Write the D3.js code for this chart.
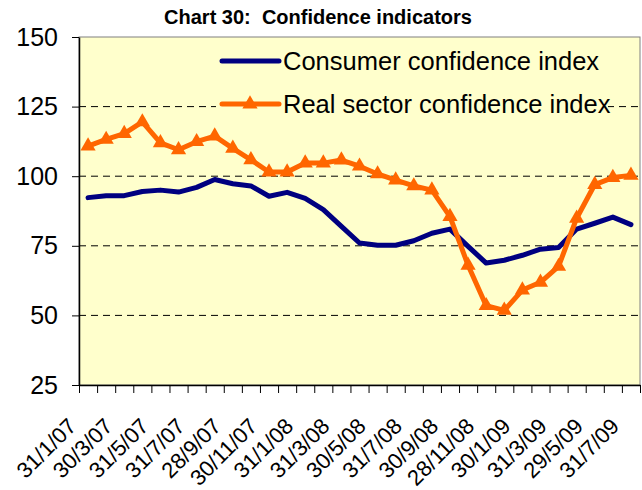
<!DOCTYPE html>
<html lang="en">
<head>
    <meta charset="UTF-8">
    <title>Chart 30: Confidence indicators</title>
    <script src="https://d3js.org/d3.v7.min.js"></script>
    <style>
        body { margin: 0; background: #fff; }
        svg { display: block; font-family: "Liberation Sans", Arial, sans-serif; }
        .title { font-size: 20px; font-weight: bold; text-anchor: middle; white-space: pre; }
        .legend-label { font-size: 25.5px; }
    </style>
</head>
<body>
    <svg width="642" height="490"></svg>
    <script>
        // monthly observations, Jan 2007 - Jul 2009
        const dates = ["31/1/07", "28/2/07", "30/3/07", "30/4/07", "31/5/07", "29/6/07", "31/7/07", "31/8/07",
            "28/9/07", "31/10/07", "30/11/07", "31/12/07", "31/1/08", "29/2/08", "31/3/08", "30/4/08",
            "30/5/08", "30/6/08", "31/7/08", "29/8/08", "30/9/08", "31/10/08", "28/11/08", "31/12/08",
            "30/1/09", "27/2/09", "31/3/09", "30/4/09", "29/5/09", "30/6/09", "31/7/09"];
        const consumer = [92.3, 93, 93, 94.5, 95, 94.3, 96, 98.8, 97.3, 96.5, 92.8, 94.2, 92, 88, 82, 76,
            75.2, 75.2, 76.8, 79.5, 81, 74.8, 68.8, 69.8, 71.6, 73.8, 74.4, 81, 83.1, 85.3, 82.6];
        const realSector = [110.8, 113.2, 115.3, 119.5, 112, 109.5, 112.4, 114.4, 110, 105.9, 101.5, 101.5,
            104.7, 104.7, 105.8, 103.6, 100.8, 98.6, 96.5, 95, 85.5, 68, 53.5, 51.8, 59.1, 61.9, 67.6,
            84.9, 97, 99.5, 100.3];
        const yTicks = [25, 50, 75, 100, 125, 150];
        const gridValues = [50, 75, 100, 125];
        const seriesNames = ["Consumer confidence index", "Real sector confidence index"];

        const plot = { left: 79, right: 640, top: 37, bottom: 385 };
        const svg = d3.select("svg");

        const x = d3.scaleBand()
            .domain(dates)
            .range([plot.left, plot.right])
            .padding(0);
        const xc = d => x(d) + x.bandwidth() / 2;

        const y = d3.scaleLinear()
            .domain([25, 150])
            .range([plot.bottom, plot.top]);

        // plot background
        svg.append("rect")
            .attr("x", plot.left)
            .attr("y", plot.top)
            .attr("width", plot.right - plot.left)
            .attr("height", plot.bottom - plot.top)
            .attr("fill", "#FFFFCC")
            .attr("stroke", "#808080")
            .attr("stroke-width", 1);

        svg.append("g")
            .selectAll("line")
            .data(gridValues)
            .enter()
            .append("line")
            .attr("x1", plot.left)
            .attr("x2", plot.right)
            .attr("y1", d => y(d))
            .attr("y2", d => y(d))
            .attr("stroke", "#000")
            .attr("stroke-width", 1)
            .attr("stroke-dasharray", "7,5");

        // y axis
        const yAxis = svg.append("g")
            .attr("transform", `translate(${plot.left},0)`)
            .call(d3.axisLeft(y).tickValues(yTicks).tickSize(7).tickSizeOuter(0).tickPadding(14));
        yAxis.select(".domain").attr("stroke", "#000").attr("stroke-width", 1.5);
        yAxis.selectAll("line").attr("stroke", "#000");
        yAxis.selectAll("text")
            .style("font-size", "25px")
            .style("font-family", "'Liberation Sans', Arial, sans-serif")
            .attr("fill", "#000");

        // x axis: tick marks between categories
        const edges = d3.scaleLinear().domain([0, dates.length]).range([plot.left, plot.right]);
        const xTicks = svg.append("g")
            .attr("transform", `translate(0,${plot.bottom})`)
            .call(d3.axisBottom(edges).tickValues(d3.range(dates.length + 1)).tickFormat("").tickSize(8).tickSizeOuter(0));
        xTicks.select(".domain").attr("stroke", "#000").attr("stroke-width", 1.5);
        xTicks.selectAll("line").attr("stroke", "#000");

        // x labels every second month
        const xAxis = svg.append("g")
            .attr("transform", `translate(0,${plot.bottom})`)
            .call(d3.axisBottom(x).tickValues(dates.filter((d, i) => i % 2 === 0)).tickSize(0).tickSizeOuter(0));
        xAxis.select(".domain").remove();
        xAxis.selectAll("text")
            .style("font-size", "22px")
            .style("font-family", "'Liberation Sans', Arial, sans-serif")
            .attr("fill", "#000")
            .attr("text-anchor", "end")
            .attr("dy", "0.35em")
            .attr("transform", "translate(-18,35) rotate(-45)");

        // lines
        const line = d3.line()
            .x((d, i) => xc(dates[i]))
            .y(d => y(d));

        svg.append("path")
            .datum(consumer)
            .attr("fill", "none")
            .attr("stroke", "#000080")
            .attr("stroke-width", 5)
            .attr("stroke-linejoin", "round")
            .attr("stroke-linecap", "round")
            .attr("d", line);

        svg.append("path")
            .datum(realSector)
            .attr("fill", "none")
            .attr("stroke", "#FF6600")
            .attr("stroke-width", 5)
            .attr("stroke-linejoin", "round")
            .attr("d", line);

        const tri = d3.symbol().type(d3.symbolTriangle).size(100);
        svg.append("g")
            .selectAll("path")
            .data(realSector)
            .enter()
            .append("path")
            .attr("d", tri)
            .attr("transform", (d, i) => `translate(${xc(dates[i])},${y(d)})`)
            .attr("fill", "#FF6600");

        // legend
        const legend = svg.append("g");
        legend.append("rect")
            .attr("x", 216)
            .attr("y", 40)
            .attr("width", 392)
            .attr("height", 86)
            .attr("fill", "#FFFFCC");

        const rows = [
            { name: seriesNames[0], color: "#000080", marker: false, cy: 61 },
            { name: seriesNames[1], color: "#FF6600", marker: true, cy: 104 }
        ];
        rows.forEach(r => {
            legend.append("line")
                .attr("x1", 222).attr("x2", 279)
                .attr("y1", r.cy).attr("y2", r.cy)
                .attr("stroke", r.color)
                .attr("stroke-width", 5)
                .attr("stroke-linecap", "round");
            if (r.marker) {
                legend.append("path")
                    .attr("d", tri)
                    .attr("transform", `translate(250,${r.cy})`)
                    .attr("fill", r.color);
            }
            legend.append("text")
                .attr("class", "legend-label")
                .attr("x", 283)
                .attr("y", r.cy)
                .attr("dy", "0.35em")
                .text(r.name);
        });

        svg.append("text")
            .attr("class", "title")
            .attr("x", 318)
            .attr("y", 24)
            .text("Chart 30:  Confidence indicators");
    </script>
</body>
</html>
